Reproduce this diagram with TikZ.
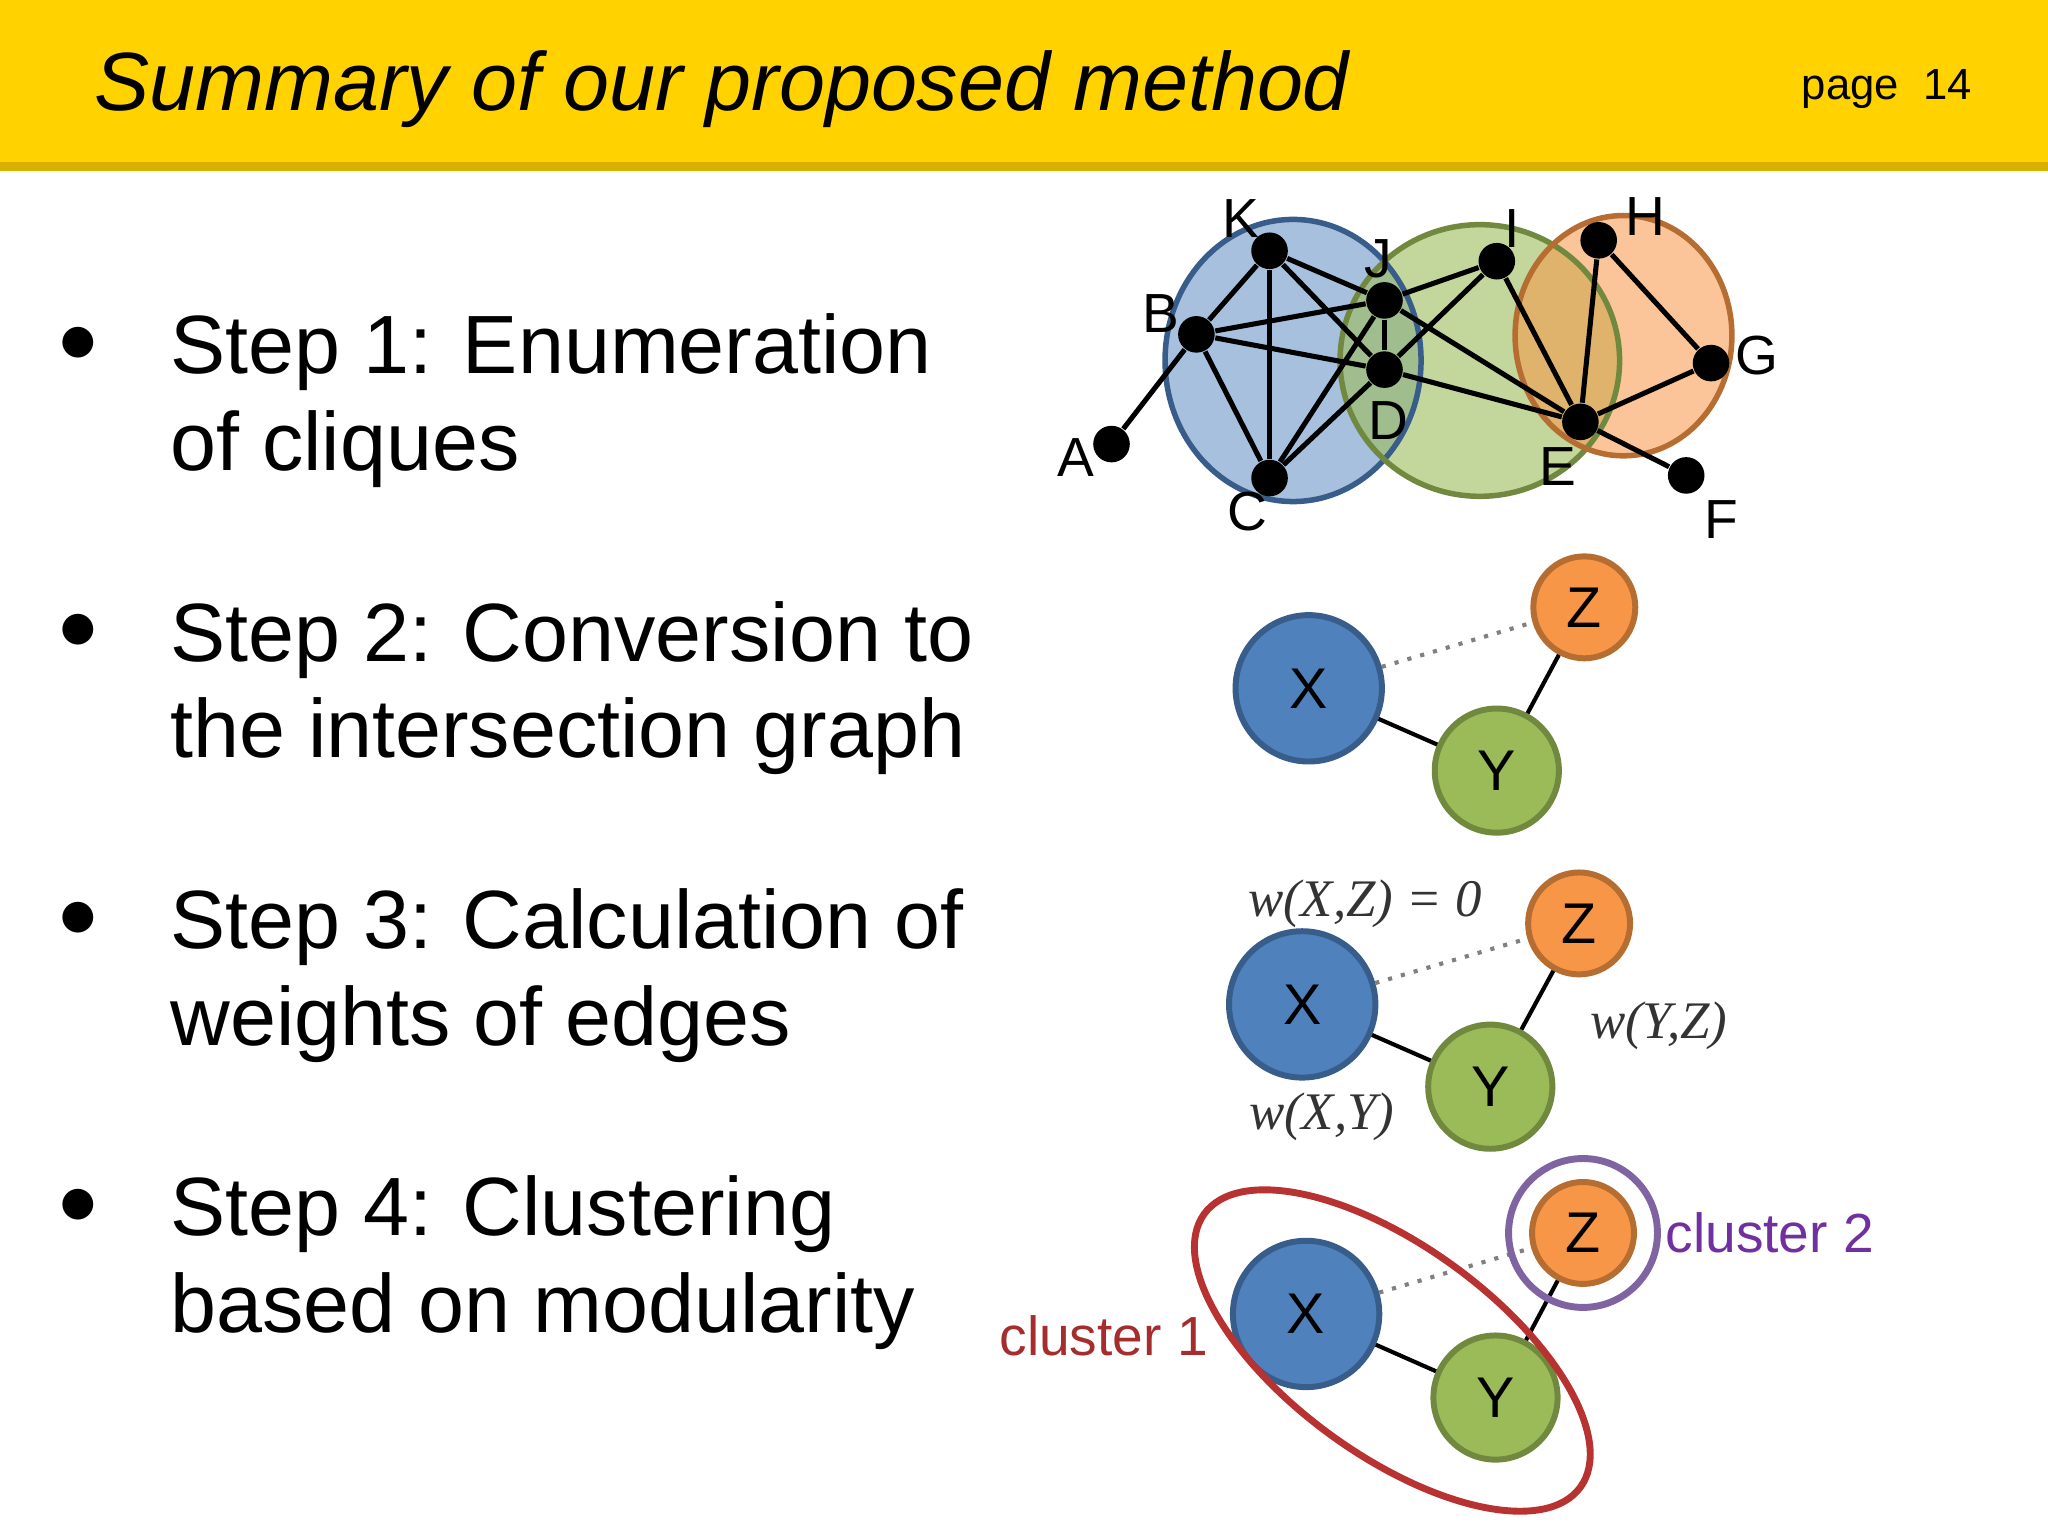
\documentclass[tikz,border=0pt]{standalone}
\usepackage{fontspec}
\setmainfont{Liberation Sans}
\newfontfamily\mathserif{Liberation Serif}
\definecolor{barcol}{HTML}{FFD200}
\definecolor{barshadow}{HTML}{D9B000}
\definecolor{cblue}{HTML}{4F81BD}\definecolor{dblue}{HTML}{385D8A}
\definecolor{cgreen}{HTML}{9BBB59}\definecolor{dgreen}{HTML}{71893F}
\definecolor{corange}{HTML}{F79646}\definecolor{dorange}{HTML}{B66D31}
\definecolor{cluA}{HTML}{B83232}\definecolor{cluB}{HTML}{7030A0}\definecolor{cluBl}{HTML}{8064A2}
\begin{document}
\begin{tikzpicture}[x=0.01cm,y=-0.01cm,
 v/.style={circle,fill=black,inner sep=0,minimum size=0.28cm},
 e/.style={line width=1.1pt},
 lab/.style={font=\fontsize{12}{12}\selectfont},
 bn/.style={circle,draw=dblue,fill=cblue,line width=1.3pt,inner sep=0,minimum size=1.12cm,font=\fontsize{12.5}{12.5}\selectfont},
 gn/.style={circle,draw=dgreen,fill=cgreen,line width=1.3pt,inner sep=0,minimum size=0.95cm,font=\fontsize{12.5}{12.5}\selectfont},
 on/.style={circle,draw=dorange,fill=corange,line width=1.3pt,inner sep=0,minimum size=0.78cm,font=\fontsize{12.5}{12.5}\selectfont},
 ie/.style={line width=0.9pt},
 dt/.style={gray,dotted,line width=0.9pt},
 steptext/.style={anchor=north west,align=left,font=\fontsize{18}{21}\selectfont},
 bul/.style={font=\fontsize{18}{18}\selectfont},
 w/.style={font=\mathserif\itshape\fontsize{11.5}{11.5}\selectfont,text=black!80}]
\useasboundingbox (0,0) rectangle (1568,1176);
\fill[barshadow] (0,120) rectangle (1568,131);
\fill[barcol] (0,0) rectangle (1568,124);
\node[anchor=west,font=\itshape\fontsize{18}{18}\selectfont] (title) at (60,68) {Summary of our proposed method};
\node[anchor=east,font=\fontsize{9.5}{9.5}\selectfont] (page) at (1522,68) {page\ \ 14};
% steps
\node[bul] (b1) at (60,264) {$\bullet$};
\node[steptext] (s1) at (118,228) {Step 1: Enumeration\\of cliques};
\node[bul] (b2) at (60,484) {$\bullet$};
\node[steptext] (s2) at (118,448) {Step 2: Conversion to\\the intersection graph};
\node[bul] (b3) at (60,704) {$\bullet$};
\node[steptext] (s3) at (118,668) {Step 3: Calculation of\\weights of edges};
\node[bul] (b4) at (60,924) {$\bullet$};
\node[steptext] (s4) at (118,888) {Step 4: Clustering\\based on modularity};
% clique graph
\fill[cblue,opacity=0.5] (990,276) ellipse (98 and 108);
\fill[cgreen,opacity=0.6] (1133,276) ellipse (107 and 104);
\fill[corange,opacity=0.55] (1243,257) ellipse (83 and 92);
\draw[dblue,line width=1.2pt] (990,276) ellipse (98 and 108);
\draw[dgreen,line width=1.2pt] (1133,276) ellipse (107 and 104);
\draw[dorange,line width=1.2pt] (1243,257) ellipse (83 and 92);
\node[v] (K) at (972,192) {}; \node[v] (J) at (1060,230) {};
\node[v] (I) at (1146,200) {}; \node[v] (H) at (1224,184) {};
\node[v] (B) at (916,256) {}; \node[v] (D) at (1060,283) {};
\node[v] (G) at (1310,278) {}; \node[v] (E) at (1210,323) {};
\node[v] (A) at (851,340) {}; \node[v] (C) at (972,366) {};
\node[v] (F) at (1291,364) {};
\foreach \a/\b in {A/B,B/K,B/C,B/J,B/D,K/C,K/J,K/D,J/D,J/C,J/I,J/E,D/C,D/I,D/E,I/E,H/E,H/G,G/E,E/F}
 \draw[e] (\a) -- (\b);
\node[lab] (lK) at (950,167) {K}; \node[lab] (lJ) at (1055,198) {J};
\node[lab] (lI) at (1158,175) {I}; \node[lab] (lH) at (1260,166) {H};
\node[lab] (lB) at (889,240) {B}; \node[lab] (lD) at (1063,322) {D};
\node[lab] (lG) at (1345,272) {G}; \node[lab] (lE) at (1193,357) {E};
\node[lab] (lA) at (824,350) {A}; \node[lab] (lC) at (955,392) {C};
\node[lab] (lF) at (1318,398) {F};
% panel 2
\node[on] (Z2) at (1213,465) {Z};
\node[gn] (Y2) at (1146,590) {Y};
\node[bn] (X2) at (1002,527) {X};
\draw[dt] (X2) -- (Z2); \draw[ie] (X2) -- (Y2); \draw[ie] (Y2) -- (Z2);
% panel 3
\node[on] (Z3) at (1209,707) {Z};
\node[gn] (Y3) at (1141,832) {Y};
\node[bn] (X3) at (997,769) {X};
\draw[dt] (X3) -- (Z3); \draw[ie] (X3) -- (Y3); \draw[ie] (Y3) -- (Z3);
\node[w] (wxz) at (1045,692) {w(X,Z) = 0};
\node[w] (wyz) at (1270,785) {w(Y,Z)};
\node[w] (wxy) at (1012,855) {w(X,Y)};
% panel 4
\node[on] (Z4) at (1212,944) {Z};
\node[gn] (Y4) at (1145,1070) {Y};
\node[bn] (X4) at (1000,1006) {X};
\draw[dt] (X4) -- (Z4); \draw[ie] (X4) -- (Y4); \draw[ie] (Y4) -- (Z4);
\draw[cluA,line width=1.5pt,rotate around={-36:(1066,1034)}] (1066,1034) ellipse (178 and 80);
\draw[cluBl,line width=1.5pt] (1212,944) circle (57);
\node[text=cluA!90!black,font=\fontsize{12}{12}\selectfont] (cl1) at (845,1023) {cluster 1};
\node[text=cluB,font=\fontsize{12}{12}\selectfont] (cl2) at (1355,944) {cluster 2};
\end{tikzpicture}
\end{document}
